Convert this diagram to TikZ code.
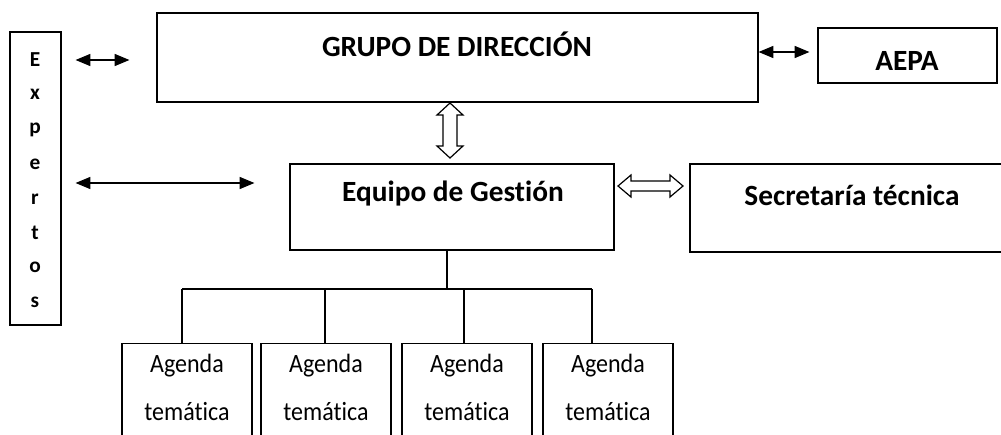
\documentclass[tikz,border=0pt]{standalone}
\usepackage{fontspec}
\setmainfont{Carlito}[Ligatures=NoCommon]
\usetikzlibrary{arrows.meta}
\begin{document}
\begin{tikzpicture}[x=0.75pt,y=-0.75pt,
  box/.style={draw,line width=0.9pt,inner sep=0pt},
  head/.style={font=\fontsize{22}{26}\selectfont\bfseries,inner sep=0pt},
  letter/.style={font=\fontsize{16}{19}\selectfont\bfseries,inner sep=0pt},
  agtext/.style={font=\fontsize{18}{21}\selectfont,inner sep=0pt,yscale=1.1},
  link/.style={line width=0.8pt,{Triangle[length=11pt,width=9pt]}-{Triangle[length=11pt,width=9pt]}},
  tree/.style={line width=0.8pt},
  hollow/.style={draw,line width=0.9pt,fill=white}]
\useasboundingbox (0,0) rectangle (1001,435);
\fill[white] (0,0) rectangle (1001,435);
\clip (0,0) rectangle (1001,435);
% boxes
\node[box,minimum width=38.25pt,minimum height=219.75pt] (exp) at (35.5,178.5) {};
\node[box,minimum width=450.75pt,minimum height=66.75pt] (grupo) at (457.5,57.5) {};
\node[box,minimum width=134.25pt,minimum height=41.25pt] (aepa) at (907.5,55.5) {};
\node[box,minimum width=243pt,minimum height=64.5pt] (equipo) at (452,207) {};
\node[box,minimum width=240pt,minimum height=66pt] (secre) at (850,208) {};
\node[box,minimum width=97.5pt,minimum height=97.5pt,anchor=north] (ag1) at (187,343) {};
\node[box,minimum width=97.5pt,minimum height=97.5pt,anchor=north] (ag2) at (326,343) {};
\node[box,minimum width=97.5pt,minimum height=97.5pt,anchor=north] (ag3) at (467,343) {};
\node[box,minimum width=97.5pt,minimum height=97.5pt,anchor=north] (ag4) at (608,343) {};
% texts
\node[head] (tgrupo) at (457,44) {GRUPO DE DIRECCIÓN};
\node[head] (taepa) at (907,61) {AEPA};
\node[head] (tequipo) at (453,194) {Equipo de Gestión};
\node[head] (tsecre) at (852,195) {Secretaría técnica};
\foreach \l/\y [count=\i] in {E/60,x/94,p/130,e/164,r/199,t/233,o/267,s/302}
  \node[letter] (l\i) at (35,\y) {\l};
\foreach \i/\x in {1/187,2/326,3/467,4/608}{
  \node[agtext] (a\i) at (\x,366) {Agenda};
  \node[agtext] (b\i) at (\x,412) {temática};
}
% connectors
\draw[link,shorten <=10.5pt,shorten >=20.25pt] (exp.east |- 0,60) -- (grupo.west |- 0,60);
\draw[link,shorten <=10.5pt,shorten >=26.25pt] (exp.east |- 0,183) -- (equipo.west |- 0,183);
\draw[link,shorten >=6pt] (grupo.east |- 0,52) -- (aepa.west |- 0,52);
% hollow double arrows
\draw[hollow] (450,103) -- (463,115) -- (457,115) -- (457,146) -- (463,146) -- (450,158)
  -- (437,146) -- (443,146) -- (443,115) -- (437,115) -- cycle;
\draw[hollow] (618,186) -- (631,175) -- (631,181) -- (670,181) -- (670,175) -- (683,186)
  -- (670,197) -- (670,191) -- (631,191) -- (631,197) -- cycle;
% tree
\coordinate (hub) at (447,289);
\draw[tree] (equipo.south -| hub) -- (hub);
\draw[tree] (182,289) -- (592,289);
\draw[tree] (182,289) -- (ag1.north -| 182,0);
\draw[tree] (325,289) -- (ag2.north -| 325,0);
\draw[tree] (464,289) -- (ag3.north -| 464,0);
\draw[tree] (592,289) -- (ag4.north -| 592,0);
\end{tikzpicture}
\end{document}
